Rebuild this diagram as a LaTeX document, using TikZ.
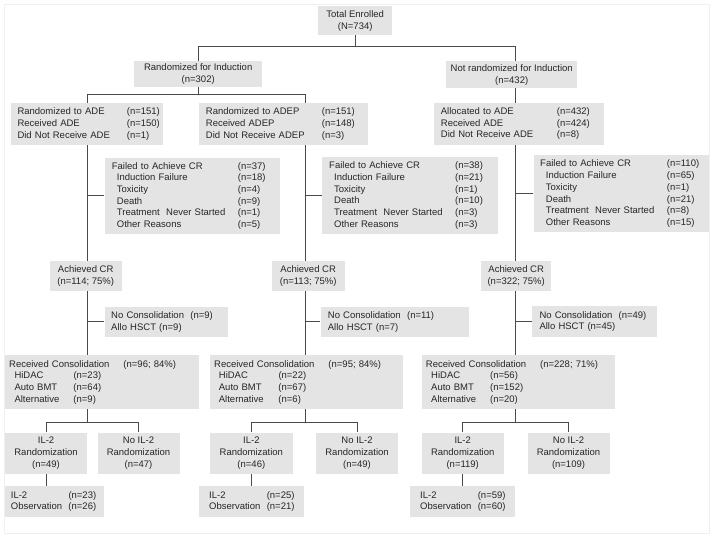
\documentclass[tikz,border=0pt]{standalone}
\usepackage{fontspec}
\setmainfont{Liberation Sans}
\definecolor{boxfill}{HTML}{E4E4E4}
\definecolor{linecol}{HTML}{4A4A4A}
\definecolor{txt}{HTML}{262626}
\definecolor{framecol}{HTML}{F0F0F0}
\newcommand{\cl}[2]{\makebox[#1][l]{#2}}
\begin{document}
\begin{tikzpicture}[x=1pt,y=-1pt,
  bx/.style={fill=boxfill, inner ysep=0pt, anchor=north west, text=txt, align=left,
    font=\fontsize{9.5}{11.7}\selectfont},
  cbx/.style={fill=boxfill, inner sep=0pt, anchor=north west, text=txt, align=center,
    font=\fontsize{9.5}{11.7}\selectfont},
  ln/.style={draw=linecol, line width=0.9pt}]
\useasboundingbox (0,0) rectangle (714,538);
\draw[framecol, line width=0.8pt] (4,4) rectangle (709,533);

% trunk x positions
\coordinate (cA) at (87.3,0);
\coordinate (cB) at (305,0);
\coordinate (cC) at (515.7,0);

% top
\node[cbx, minimum width=74pt, minimum height=29pt] (tot) at (318,6) {Total Enrolled\\(N=734)};
\node[cbx, minimum width=128pt, minimum height=26pt] (ri) at (134,61) {Randomized for Induction\\(n=302)};
\node[cbx, minimum width=131pt, minimum height=27pt] (nr) at (446,61) {Not randomized for Induction\\(n=432)};

% arm boxes
\node[bx, inner xsep=6.6pt, text width=139.1pt, minimum height=42pt] (ade) at (10.7,103)
 {\cl{109.4pt}{Randomized to ADE}(n=151)\\\cl{109.4pt}{Received ADE}(n=150)\\\cl{109.4pt}{Did Not Receive ADE}(n=1)};
\node[bx, inner xsep=7.4pt, text width=154.9pt, minimum height=42pt] (adep) at (198.3,103)
 {\cl{116pt}{Randomized to ADEP}(n=151)\\\cl{116pt}{Received ADEP}(n=148)\\\cl{116pt}{Did Not Receive ADEP}(n=3)};
\node[bx, inner xsep=7.4pt, text width=155.2pt, minimum height=42pt] (alloc) at (433.3,102.5)
 {\cl{116pt}{Allocated to ADE}(n=432)\\\cl{116pt}{Received ADE}(n=424)\\\cl{116pt}{Did Not Receive ADE}(n=8)};

% failed boxes
\node[bx, inner xsep=7.4pt, text width=160.9pt, minimum height=76.7pt] (failA) at (104.3,157.3)
 {\cl{126pt}{Failed to Achieve CR}(n=37)\\
  \hspace*{5pt}\cl{121pt}{Induction Failure}(n=18)\\
  \hspace*{5pt}\cl{121pt}{Toxicity}(n=4)\\
  \hspace*{5pt}\cl{121pt}{Death}(n=9)\\
  \hspace*{5pt}\cl{121pt}{Treatment~ Never Started}(n=1)\\
  \hspace*{5pt}\cl{121pt}{Other Reasons}(n=5)};
\node[bx, inner xsep=7.3pt, text width=161.4pt, minimum height=76.5pt] (failB) at (321.7,157)
 {\cl{126pt}{Failed to Achieve CR}(n=38)\\
  \hspace*{5pt}\cl{121pt}{Induction Failure}(n=21)\\
  \hspace*{5pt}\cl{121pt}{Toxicity}(n=1)\\
  \hspace*{5pt}\cl{121pt}{Death}(n=10)\\
  \hspace*{5pt}\cl{121pt}{Treatment~ Never Started}(n=3)\\
  \hspace*{5pt}\cl{121pt}{Other Reasons}(n=3)};
\node[bx, inner xsep=6.7pt, text width=162.3pt, minimum height=77pt] (failC) at (533.3,155)
 {\cl{126.7pt}{Failed to Achieve CR}(n=110)\\
  \hspace*{5.7pt}\cl{121pt}{Induction Failure}(n=65)\\
  \hspace*{5.7pt}\cl{121pt}{Toxicity}(n=1)\\
  \hspace*{5.7pt}\cl{121pt}{Death}(n=21)\\
  \hspace*{5.7pt}\cl{121pt}{Treatment~ Never Started}(n=8)\\
  \hspace*{5.7pt}\cl{121pt}{Other Reasons}(n=15)};

% achieved CR
\node[cbx, minimum width=72.4pt, minimum height=30pt] (acrA) at (49.3,260.7) {Achieved CR\\(n=114; 75\%)};
\node[cbx, minimum width=72.6pt, minimum height=30pt] (acrB) at (271.7,260.7) {Achieved CR\\(n=113; 75\%)};
\node[cbx, minimum width=70pt, minimum height=30pt] (acrC) at (481,261) {Achieved CR\\(n=322; 75\%)};

% no consolidation
\node[bx, inner xsep=6.7pt, text width=110pt, minimum height=30pt] (noconA) at (104.3,306.7)
 {No Consolidation~ (n=9)\\Allo HSCT (n=9)};
\node[bx, inner xsep=7.4pt, text width=133.2pt, minimum height=30pt] (noconB) at (320.3,306.7)
 {No Consolidation~ (n=11)\\Allo HSCT (n=7)};
\node[bx, inner xsep=7.3pt, text width=110.4pt, minimum height=30.5pt] (noconC) at (532,306.2)
 {No Consolidation~ (n=49)\\Allo HSCT (n=45)};

% received consolidation
\node[bx, inner xsep=4pt, text width=186pt, minimum height=54pt] (recA) at (5,355)
 {\cl{114.3pt}{Received Consolidation}(n=96; 84\%)\\
  \hspace*{5.3pt}\cl{59pt}{HiDAC}(n=23)\\
  \hspace*{5.3pt}\cl{59pt}{Auto BMT}(n=64)\\
  \hspace*{5.3pt}\cl{59pt}{Alternative}(n=9)};
\node[bx, inner xsep=4pt, text width=184.7pt, minimum height=54pt] (recB) at (210,355)
 {\cl{114.3pt}{Received Consolidation}(n=95; 84\%)\\
  \hspace*{4.7pt}\cl{59.6pt}{HiDAC}(n=22)\\
  \hspace*{4.7pt}\cl{59.6pt}{Auto BMT}(n=67)\\
  \hspace*{4.7pt}\cl{59.6pt}{Alternative}(n=6)};
\node[bx, inner xsep=4pt, text width=184.6pt, minimum height=54pt] (recC) at (421.7,355)
 {\cl{114.3pt}{Received Consolidation}(n=228; 71\%)\\
  \hspace*{5.3pt}\cl{59pt}{HiDAC}(n=56)\\
  \hspace*{5.3pt}\cl{59pt}{Auto BMT}(n=152)\\
  \hspace*{5.3pt}\cl{59pt}{Alternative}(n=20)};

% IL-2 randomization
\node[cbx, minimum width=81.7pt, minimum height=41.7pt] (il2A) at (5,432.3) {IL-2\\Randomization\\(n=49)};
\node[cbx, minimum width=82pt, minimum height=41.7pt] (noilA) at (97.3,432.3) {No IL-2\\Randomization\\(n=47)};
\node[cbx, minimum width=82.3pt, minimum height=41.7pt] (il2B) at (210,432.3) {IL-2\\Randomization\\(n=46)};
\node[cbx, minimum width=81.7pt, minimum height=41.7pt] (noilB) at (316,432.3) {No IL-2\\Randomization\\(n=49)};
\node[cbx, minimum width=81.6pt, minimum height=41.7pt] (il2C) at (421.7,432.3) {IL-2\\Randomization\\(n=119)};
\node[cbx, minimum width=82pt, minimum height=41.7pt] (noilC) at (527.3,432.3) {No IL-2\\Randomization\\(n=109)};

% observation
\node[bx, inner xsep=5.7pt, text width=87.6pt, minimum height=30.7pt] (obsA) at (5,486)
 {\cl{57.6pt}{IL-2}(n=23)\\\cl{57.6pt}{Observation}(n=26)};
\node[bx, inner xsep=10pt, text width=85pt, minimum height=30.7pt] (obsB) at (199,486)
 {\cl{57.6pt}{IL-2}(n=25)\\\cl{57.6pt}{Observation}(n=21)};
\node[bx, inner xsep=10pt, text width=85pt, minimum height=30.7pt] (obsC) at (410,486)
 {\cl{57.6pt}{IL-2}(n=59)\\\cl{57.6pt}{Observation}(n=60)};

% connectors: top
\draw[ln] (tot.south) -- ++(0,11) coordinate (j0);
\draw[ln] (ri.north) |- (j0);
\draw[ln] (nr.north -| cC) |- (j0);
\draw[ln] (ri.south) -- ++(0,7) coordinate (j1);
\draw[ln] (ade.north -| cA) |- (j1) -| (adep.north -| cB);
\draw[ln] (nr.south -| cC) -- (alloc.north -| cC);

% trunks
\draw[ln] (ade.south -| cA) -- (acrA.north -| cA);
\draw[ln] (adep.south -| cB) -- (acrB.north -| cB);
\draw[ln] (alloc.south -| cC) -- (acrC.north -| cC);
\draw[ln] (failA.west) -- (failA.west -| cA);
\draw[ln] (failB.west) -- (failB.west -| cB);
\draw[ln] (failC.west) -- (failC.west -| cC);

\draw[ln] (acrA.south -| cA) -- (recA.north -| cA);
\draw[ln] (acrB.south -| cB) -- (recB.north -| cB);
\draw[ln] (acrC.south -| cC) -- (recC.north -| cC);
\draw[ln] (noconA.west) -- (noconA.west -| cA);
\draw[ln] (noconB.west) -- (noconB.west -| cB);
\draw[ln] (noconC.west) -- (noconC.west -| cC);

% IL-2 branches
\draw[ln] (recA.south -| cA) -- ++(0,12.7) coordinate (jA);
\draw[ln] (il2A.north) |- (jA) -| (noilA.north);
\draw[ln] (recB.south -| cB) -- ++(0,12.7) coordinate (jB);
\draw[ln] (il2B.north) |- (jB) -| (noilB.north);
\draw[ln] (recC.south -| cC) -- ++(0,12.7) coordinate (jC);
\draw[ln] (il2C.north) |- (jC) -| (noilC.north);

\draw[ln] (il2A.south) -- (il2A.south |- obsA.north);
\draw[ln] (il2B.south) -- (il2B.south |- obsB.north);
\draw[ln] (il2C.south) -- (il2C.south |- obsC.north);
\end{tikzpicture}
\end{document}
